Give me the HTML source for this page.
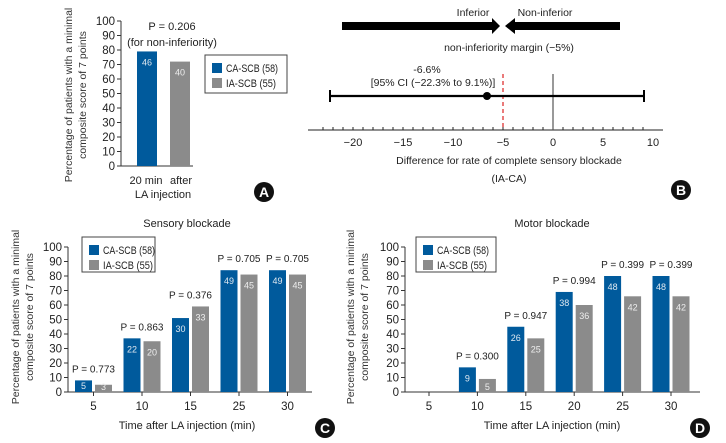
<!DOCTYPE html>
<html><head><meta charset="utf-8"><style>
html,body{margin:0;padding:0;background:#fff;}
svg{display:block;font-family:"Liberation Sans",sans-serif;}
</style></head><body>
<svg id="s" width="726" height="443" viewBox="0 0 726 443"></svg>
<script>
// Panel A data
const aCats = ["20 min"];
const aCA = [79];
const aIA = [72];
const aCALabels = ["46"];
const aIALabels = ["40"];
// Panel B data
const bEstimate = [-6.6];
const bLower = [-22.3];
const bUpper = [9.1];
const bMargin = [-5];
const bTicks = [-20,-15,-10,-5,0,5,10];
// Panel C data
const cCats = ["5","10","15","25","30"];
const cCA = [8,37,51,84,84];
const cIA = [5,35,59,81,81];
const cCALabels = ["5","22","30","49","49"];
const cIALabels = ["3","20","33","45","45"];
const cP = ["P = 0.773","P = 0.863","P = 0.376","P = 0.705","P = 0.705"];
// Panel D data
const dCats = ["5","10","15","20","25","30"];
const dCA = [0,17,45,69,80,80];
const dIA = [0,9,37,60,66,66];
const dCALabels = ["","9","26","38","48","48"];
const dIALabels = ["","5","25","36","42","42"];
const dP = ["","P = 0.300","P = 0.947","P = 0.994","P = 0.399","P = 0.399"];
const yTicks = [0,10,20,30,40,50,60,70,80,90,100];

const S = document.getElementById('s');
const NS = "http://www.w3.org/2000/svg";
function el(tag, attrs, parent, text){
  const e = document.createElementNS(NS, tag);
  for (const k in attrs) e.setAttribute(k, attrs[k]);
  if (text !== undefined) e.textContent = text;
  (parent||S).appendChild(e);
  return e;
}
const BLUE="#005a9c", GRAY="#8b8b8b", AX="#333";

function yAxis(g, x, y0, y1, fs){
  const l = el('line',{x1:x,x2:x,y1:y0,y2:y1,stroke:AX,'stroke-width':1},g);
  
  
  yTicks.forEach(v=>{
    const y = y0 - (y0-y1)*v/100;
    const t = el('line',{x1:x-4,x2:x,y1:y,y2:y,stroke:AX},g);
    
    
    const tx = el('text',{x:x-6,y:y+4,'text-anchor':'end','font-size':fs,fill:'#222'},g,String(v));
    
    
  });
}
function yTitle(g, x, y){
  const t = el('text',{transform:`translate(${x},${y}) rotate(-90)`,'text-anchor':'middle','font-size':10.5,fill:'#333'},g);
  
  
  el('tspan',{x:0,dy:0},t,'Percentage of patients with a minimal');
  el('tspan',{x:0,dy:14},t,'composite score of 7 points');
}
function legend(g, x, y, w, h){
  const lg = el('g',{},g);
  
  
  el('rect',{x:x,y:y,width:w,height:h,fill:'#fff',stroke:'#444'},lg);
  const e1 = el('g',{},lg);
  
  
  el('rect',{x:x+7,y:y+8,width:10,height:10,fill:BLUE},e1);
  el('text',{x:x+21,y:y+17,'font-size':11,fill:'#222',textLength:52,lengthAdjust:'spacingAndGlyphs'},e1,'CA-SCB (58)');
  const e2 = el('g',{},lg);
  
  
  el('rect',{x:x+7,y:y+23,width:10,height:10,fill:GRAY},e2);
  el('text',{x:x+21,y:y+32,'font-size':11,fill:'#222',textLength:50,lengthAdjust:'spacingAndGlyphs'},e2,'IA-SCB (55)');
}
function badge(g, x, y, letter){
  const b = el('g',{},g);
  
  
  el('circle',{cx:x,cy:y,r:10,fill:'#111'},b);
  el('text',{x:x,y:y+5,'text-anchor':'middle','font-size':14,'font-weight':'bold',fill:'#fff'},b,letter);
}
function barChart(g, o){
  const yScale = v => o.y0 - (o.y0-o.y1)*v/100;
  const xC = i => o.x0 + o.step*i;
  yAxis(g, o.ax, o.y0, o.y1, 11.5);
  const xl = el('line',{x1:o.ax,x2:o.axEnd,y1:o.y0,y2:o.y0,stroke:AX},g);
  
  
  o.cats.forEach((c,i)=>{
    const cx = xC(i);
    if (o.xticks){
      const t = el('line',{x1:cx,x2:cx,y1:o.y0,y2:o.y0+4,stroke:AX},g);
      
      
    }
    if (o.xlabels){
      const tl = el('text',{x:cx,y:o.y0+18,'text-anchor':'middle','font-size':11.5,fill:'#222'},g,c);
      
      
    }
    const bw=o.bw, gap=o.gap;
    if (o.ca[i]>0){
      const r = el('rect',{x:cx-gap/2-bw,y:yScale(o.ca[i]),width:bw,height:o.y0-yScale(o.ca[i]),fill:BLUE},g);
      
      
      const tl = el('text',{x:cx-gap/2-bw/2,y:Math.min(yScale(o.ca[i])+14,o.y0-3),'text-anchor':'middle','font-size':9,fill:'#dfe8f0'},g,o.caL[i]);
      
      
    }
    if (o.ia[i]>0){
      const r = el('rect',{x:cx+gap/2,y:yScale(o.ia[i]),width:bw,height:o.y0-yScale(o.ia[i]),fill:GRAY},g);
      
      
      const tl = el('text',{x:cx+gap/2+bw/2,y:Math.min(yScale(o.ia[i])+14,o.y0-2),'text-anchor':'middle','font-size':9,fill:'#eee'},g,o.iaL[i]);
      
      
    }
    if (o.p && o.p[i]){
      const top = Math.max(o.ca[i],o.ia[i]);
      const pt = el('text',{x:cx,y:yScale(top)-8,'text-anchor':'middle','font-size':10,fill:'#222'},g,o.p[i]);
      
      
    }
  });
}

// ---- Panel A
const gA = el('g',{});  
barChart(gA,{cats:aCats,ca:aCA,ia:aIA,caL:aCALabels,iaL:aIALabels,x0:163.5,step:48,bw:20,gap:13,ax:121,axEnd:193,y0:166,y1:21,xticks:false,xlabels:false});
yTitle(gA, 72, 95);
const pa = el('text',{x:172,y:30,'text-anchor':'middle','font-size':11,fill:'#222'},gA,'P = 0.206');
 
const pa2 = el('text',{x:172,y:46,'text-anchor':'middle','font-size':11,fill:'#222'},gA,'(for non-inferiority)');
 
const ax1 = el('text',{x:146,y:184,'text-anchor':'middle','font-size':11,fill:'#222'},gA,'20 min');
 
const ax2 = el('text',{x:181,y:184,'text-anchor':'middle','font-size':11,fill:'#222'},gA,'after');
 
const ax3 = el('text',{x:163,y:198,'text-anchor':'middle','font-size':11,fill:'#222'},gA,'LA injection');
 
legend(gA,205,55,82,38);
badge(gA,264,192,'A');

// ---- Panel B
const gB = el('g',{});  
const bx = v => 553 + v*10;
const axY = 130;
const arL = el('polygon',{points:'342,22 492,22 492,18 500,26 492,34 492,30 342,30',fill:'#000'},gB);
 
const arR = el('polygon',{points:'620,22 515,22 515,18 505,26 515,34 515,30 620,30',fill:'#000'},gB);
 
const t1 = el('text',{x:473,y:16,'text-anchor':'middle','font-size':10.5,fill:'#222'},gB,'Inferior');
 
const t2 = el('text',{x:545,y:16,'text-anchor':'middle','font-size':10.5,fill:'#222'},gB,'Non-inferior');
 
const t3 = el('text',{x:509,y:51,'text-anchor':'middle','font-size':10.5,fill:'#222'},gB,'non-inferiority margin (−5%)');
 
const axl = el('line',{x1:308,x2:663,y1:axY,y2:axY,stroke:'#222'},gB);
 
for (let v=-23; v<=9; v++){
  const t = el('line',{x1:bx(v),x2:bx(v),y1:axY-3,y2:axY,stroke:'#222'},gB);
  
  
}
bTicks.forEach(v=>{
  const t = el('text',{x:bx(v),y:axY+16,'text-anchor':'middle','font-size':11,fill:'#222'},gB,v<0?'−'+Math.abs(v):String(v));
  
  
});
const bt1 = el('text',{x:509,y:164,'text-anchor':'middle','font-size':10.5,fill:'#222'},gB,'Difference for rate of complete sensory blockade');
 
const bt2 = el('text',{x:509,y:182,'text-anchor':'middle','font-size':10.5,fill:'#222'},gB,'(IA-CA)');
 
const zl = el('line',{x1:bx(0),x2:bx(0),y1:74,y2:axY,stroke:'#555','stroke-width':1.2},gB);
 
const ml = el('line',{x1:bx(bMargin[0]),x2:bx(bMargin[0]),y1:74,y2:axY,stroke:'#d22','stroke-width':1.2,'stroke-dasharray':'4,3'},gB);
 
const ci = el('line',{x1:bx(bLower[0]),x2:bx(bUpper[0]),y1:96,y2:96,stroke:'#000','stroke-width':2.2},gB);
 
[bLower[0],bUpper[0]].forEach(v=>{
  const c = el('line',{x1:bx(v),x2:bx(v),y1:90,y2:102,stroke:'#000','stroke-width':2},gB);
  
  
});
const pt = el('circle',{cx:bx(bEstimate[0]),cy:96,r:4,fill:'#000'},gB);
 
const e1 = el('text',{x:427,y:73,'text-anchor':'middle','font-size':10.5,fill:'#222'},gB,'-6.6%');
 
const e2 = el('text',{x:433,y:86,'text-anchor':'middle','font-size':10.5,fill:'#222'},gB,'[95% CI (−22.3% to 9.1%)]');
 
badge(gB,681,190,'B');

// ---- Panel C
const gC = el('g',{});  
const ct = el('text',{x:187,y:227,'text-anchor':'middle','font-size':11,fill:'#222'},gC,'Sensory blockade');
 
barChart(gC,{cats:cCats,ca:cCA,ia:cIA,caL:cCALabels,iaL:cIALabels,p:cP,x0:93.5,step:48.5,bw:17,gap:3,ax:68,axEnd:312,y0:392,y1:247,xticks:true,xlabels:true});
yTitle(gC, 19, 317);
legend(gC,82,237,73,35);
const cx = el('text',{x:187,y:429,'text-anchor':'middle','font-size':11,fill:'#222'},gC,'Time after LA injection (min)');
 
badge(gC,325,428,'C');

// ---- Panel D
const gD = el('g',{});  
const dt = el('text',{x:552,y:227,'text-anchor':'middle','font-size':11,fill:'#222'},gD,'Motor blockade');
 
barChart(gD,{cats:dCats,ca:dCA,ia:dIA,caL:dCALabels,iaL:dIALabels,p:dP,x0:429,step:48.4,bw:17,gap:3,ax:405,axEnd:700,y0:392,y1:247,xticks:true,xlabels:true});
yTitle(gD, 354, 317);
legend(gD,416,237,80,35);
const dx = el('text',{x:552,y:429,'text-anchor':'middle','font-size':11,fill:'#222'},gD,'Time after LA injection (min)');
 
badge(gD,700,428,'D');
</script>
</body></html>
